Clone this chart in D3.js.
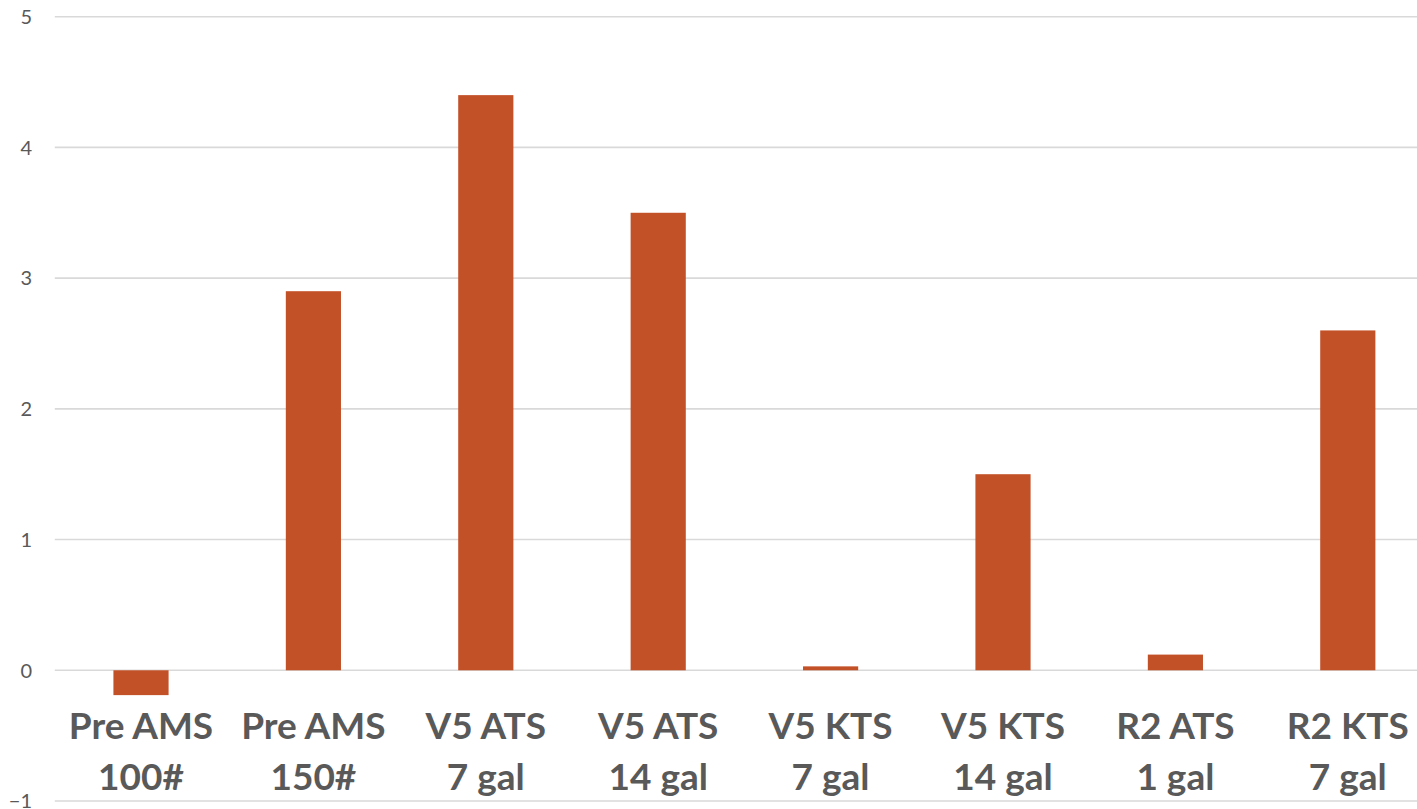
<!DOCTYPE html>
<html>
<head>
<meta charset="utf-8">
<script src="https://cdn.jsdelivr.net/npm/d3@7/dist/d3.min.js"></script>
<style>
  html, body { margin: 0; padding: 0; background: #fff; }
  svg { display: block; }
</style>
</head>
<body>
<svg id="chart" width="1417" height="809"></svg>
<script>
// Category labels (two lines each) and the bar values
const categoryLine1 = ["Pre AMS", "Pre AMS", "V5 ATS", "V5 ATS", "V5 KTS", "V5 KTS", "R2 ATS", "R2 KTS"];
const categoryLine2 = ["100#", "150#", "7 gal", "14 gal", "7 gal", "14 gal", "1 gal", "7 gal"];
const values = [-0.19, 2.9, 4.4, 3.5, 0.03, 1.5, 0.12, 2.6];
const yTicks = [-1, 0, 1, 2, 3, 4, 5];

const categories = categoryLine1.map((d, i) => d + " " + categoryLine2[i]);

const svg = d3.select("#chart");

const x = d3.scaleBand()
  .domain(categories)
  .range([54.8, 1434])
  .paddingInner(0.68)
  .paddingOuter(0.34);

const y = d3.scaleLinear()
  .domain([-1, 5])
  .range([801, 16.7]);

// Horizontal gridlines
svg.append("g")
  .selectAll("line")
  .data(yTicks)
  .join("line")
  .attr("x1", 54.8)
  .attr("x2", 1434)
  .attr("y1", d => y(d))
  .attr("y2", d => y(d))
  .attr("stroke", "#d9d9d9")
  .attr("stroke-width", 1.6);

// Y axis tick labels
const yAxis = d3.axisLeft(y).tickValues(yTicks).tickSize(0).tickPadding(0).tickFormat(d3.format("d"));
const yg = svg.append("g")
  .attr("transform", "translate(32,0)")
  .call(yAxis);
yg.select(".domain").remove();
yg.selectAll("text")
  .attr("fill", "#595959")
  .attr("dy", "0.34em")
  .style("font-family", "Lato, 'Open Sans', sans-serif")
  .style("font-size", "20px");

// Bars
svg.append("g")
  .selectAll("rect")
  .data(values)
  .join("rect")
  .attr("x", (d, i) => x(categories[i]))
  .attr("width", x.bandwidth())
  .attr("y", d => y(Math.max(0, d)))
  .attr("height", d => Math.abs(y(d) - y(0)))
  .attr("fill", "#c35128");

// Category labels
const labels = svg.append("g")
  .selectAll("text")
  .data(categories)
  .join("text")
  .attr("text-anchor", "middle")
  .attr("fill", "#595959")
  .style("font-family", "Lato, 'Open Sans', sans-serif")
  .style("font-weight", "700")
  .style("font-size", "37px");

labels.append("tspan")
  .attr("x", d => x(d) + x.bandwidth() / 2)
  .attr("y", 739)
  .text((d, i) => categoryLine1[i]);

labels.append("tspan")
  .attr("x", d => x(d) + x.bandwidth() / 2)
  .attr("y", 790)
  .text((d, i) => categoryLine2[i]);
</script>
</body>
</html>
